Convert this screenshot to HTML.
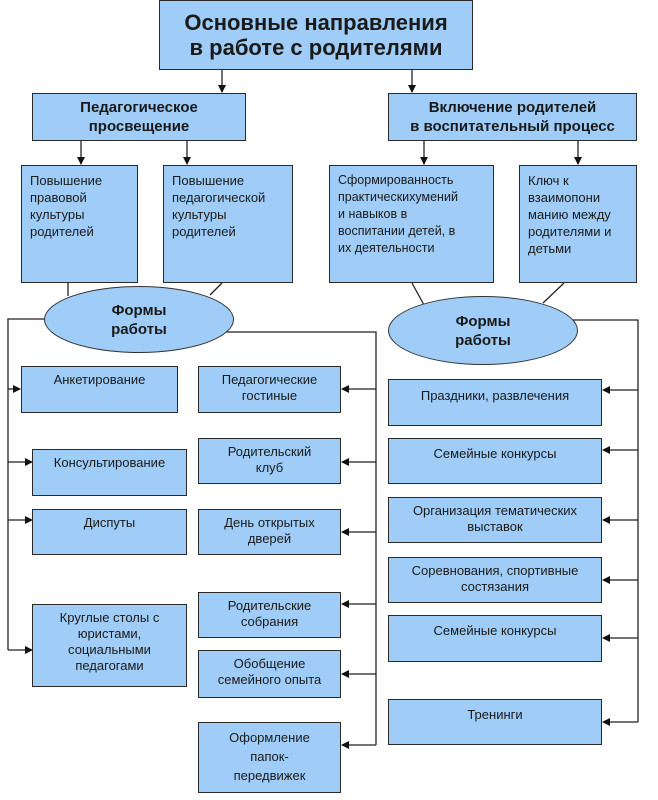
<!DOCTYPE html>
<html><head><meta charset="utf-8"><style>
body{margin:0;width:658px;height:800px;background:#fff;position:relative;overflow:hidden;font-family:"Liberation Sans","DejaVu Sans",sans-serif;color:#1a1a1a}
.b{position:absolute;box-sizing:border-box;background:#9fcdf7;border:1.5px solid #2a2a2a;display:flex;align-items:center;justify-content:center;text-align:center;font-size:13px;line-height:16px}
.t{align-items:flex-start;padding-top:5px}
.l{justify-content:flex-start;align-items:flex-start;text-align:left;padding:6px 0 0 8px;line-height:17px;font-size:13px}
.e{position:absolute;box-sizing:border-box;background:#9fcdf7;border:1.5px solid #333;border-radius:50%;display:flex;align-items:center;justify-content:center;text-align:center;font-weight:bold;font-size:15px;line-height:19px}
svg{position:absolute;left:0;top:0}
</style></head><body>
<svg width="658" height="800">
<defs><marker id="a" markerWidth="8" markerHeight="8" refX="7" refY="4" orient="auto" markerUnits="userSpaceOnUse"><path d="M0,0L8,4L0,8z" fill="#111"/></marker></defs>
<g stroke="#222" stroke-width="1.3" fill="none">
<line x1="222" y1="70" x2="222" y2="92" marker-end="url(#a)"/>
<line x1="412" y1="70" x2="412" y2="92" marker-end="url(#a)"/>
<line x1="81" y1="141" x2="81" y2="164" marker-end="url(#a)"/>
<line x1="187" y1="141" x2="187" y2="164" marker-end="url(#a)"/>
<line x1="424" y1="141" x2="424" y2="164" marker-end="url(#a)"/>
<line x1="578" y1="141" x2="578" y2="164" marker-end="url(#a)"/>
<line x1="68" y1="283" x2="68" y2="296"/>
<line x1="222" y1="283" x2="210" y2="295"/>
<line x1="412" y1="283" x2="424" y2="305"/>
<line x1="564" y1="283" x2="543" y2="303"/>
<polyline points="44,319 8,319 8,650"/>
<line x1="8" y1="389" x2="20" y2="389" marker-end="url(#a)"/>
<line x1="8" y1="462" x2="32" y2="462" marker-end="url(#a)"/>
<line x1="8" y1="520" x2="32" y2="520" marker-end="url(#a)"/>
<line x1="8" y1="650" x2="32" y2="650" marker-end="url(#a)"/>
<polyline points="210,332 376,332 376,745"/>
<line x1="376" y1="389" x2="342" y2="389" marker-end="url(#a)"/>
<line x1="376" y1="462" x2="342" y2="462" marker-end="url(#a)"/>
<line x1="376" y1="532" x2="342" y2="532" marker-end="url(#a)"/>
<line x1="376" y1="604" x2="342" y2="604" marker-end="url(#a)"/>
<line x1="376" y1="674" x2="342" y2="674" marker-end="url(#a)"/>
<line x1="376" y1="745" x2="342" y2="745" marker-end="url(#a)"/>
<polyline points="555,320 638,320 638,722"/>
<line x1="638" y1="390" x2="603" y2="390" marker-end="url(#a)"/>
<line x1="638" y1="450" x2="603" y2="450" marker-end="url(#a)"/>
<line x1="638" y1="520" x2="603" y2="520" marker-end="url(#a)"/>
<line x1="638" y1="580" x2="603" y2="580" marker-end="url(#a)"/>
<line x1="638" y1="638" x2="603" y2="638" marker-end="url(#a)"/>
<line x1="638" y1="722" x2="603" y2="722" marker-end="url(#a)"/>
</g></svg>
<div class="b" style="left:159px;top:0;width:314px;height:70px;font-size:22px;line-height:25px;font-weight:bold">Основные направления<br>в работе с родителями</div>
<div class="b" style="left:32px;top:93px;width:214px;height:48px;font-size:15px;line-height:19px;font-weight:bold">Педагогическое<br>просвещение</div>
<div class="b" style="left:388px;top:93px;width:249px;height:48px;font-size:15px;line-height:19px;font-weight:bold">Включение родителей<br>в воспитательный процесс</div>
<div class="b l" style="left:21px;top:165px;width:117px;height:118px">Повышение<br>правовой<br>культуры<br>родителей</div>
<div class="b l" style="left:163px;top:165px;width:130px;height:118px">Повышение<br>педагогической<br>культуры<br>родителей</div>
<div class="b l" style="left:329px;top:165px;width:165px;height:118px;font-size:12.5px">Сформированность<br>практическихумений<br>и навыков в<br>воспитании детей, в<br>их деятельности</div>
<div class="b l" style="left:519px;top:165px;width:118px;height:118px">Ключ к<br>взаимопони<br>манию между<br>родителями и<br>детьми</div>
<div class="e" style="left:44px;top:286px;width:190px;height:67px">Формы<br>работы</div>
<div class="e" style="left:388px;top:296px;width:190px;height:69px">Формы<br>работы</div>
<div class="b t" style="left:21px;top:366px;width:157px;height:47px">Анкетирование</div>
<div class="b t" style="left:32px;top:449px;width:155px;height:47px">Консультирование</div>
<div class="b t" style="left:32px;top:509px;width:155px;height:46px">Диспуты</div>
<div class="b t" style="left:32px;top:604px;width:155px;height:83px">Круглые столы с<br>юристами,<br>социальными<br>педагогами</div>
<div class="b t" style="left:198px;top:366px;width:143px;height:47px">Педагогические<br>гостиные</div>
<div class="b t" style="left:198px;top:438px;width:143px;height:46px">Родительский<br>клуб</div>
<div class="b t" style="left:198px;top:509px;width:143px;height:46px">День открытых<br>дверей</div>
<div class="b t" style="left:198px;top:592px;width:143px;height:46px">Родительские<br>собрания</div>
<div class="b t" style="left:198px;top:650px;width:143px;height:48px">Обобщение<br>семейного опыта</div>
<div class="b t" style="left:198px;top:722px;width:143px;height:71px;line-height:19px">Оформление<br>папок-<br>передвижек</div>
<div class="b t" style="left:388px;top:379px;width:214px;height:47px;padding-top:8px">Праздники, развлечения</div>
<div class="b t" style="left:388px;top:438px;width:214px;height:46px;padding-top:7px">Семейные конкурсы</div>
<div class="b t" style="left:388px;top:497px;width:214px;height:46px">Организация тематических<br>выставок</div>
<div class="b t" style="left:388px;top:557px;width:214px;height:46px">Соревнования, спортивные<br>состязания</div>
<div class="b t" style="left:388px;top:615px;width:214px;height:47px;padding-top:7px">Семейные конкурсы</div>
<div class="b t" style="left:388px;top:699px;width:214px;height:46px;padding-top:7px">Тренинги</div>
</body></html>
